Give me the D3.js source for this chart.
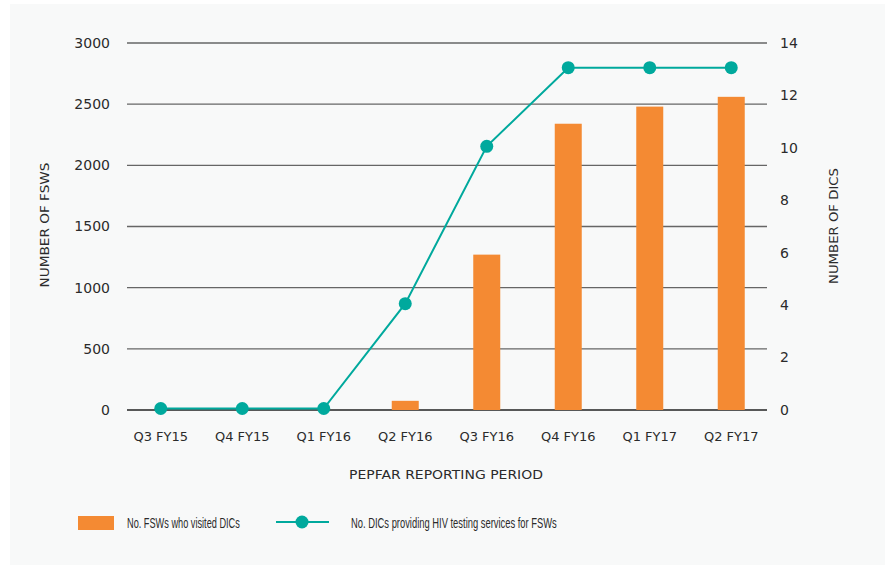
<!DOCTYPE html>
<html>
<head>
<meta charset="utf-8">
<script src="https://cdn.jsdelivr.net/npm/d3@7"></script>
<style>
  body { margin: 0; background: #ffffff; }
  text { font-family: "DejaVu Sans", sans-serif; fill: #2b2b2b; }
</style>
</head>
<body>
<div id="chart-area"></div>
<script>
// data
var periods = ["Q3 FY15", "Q4 FY15", "Q1 FY16", "Q2 FY16", "Q3 FY16", "Q4 FY16", "Q1 FY17", "Q2 FY17"];
var fswVisits = [0, 0, 0, 75, 1270, 2340, 2480, 2560];
var dicCount = [0, 0, 0, 4, 10, 13, 13, 13];
var leftTicks = [0, 500, 1000, 1500, 2000, 2500, 3000];
var rightTicks = [0, 2, 4, 6, 8, 10, 12, 14];

var W = 890, H = 565;
var svg = d3.select("#chart-area")
    .append("svg")
    .attr("width", W)
    .attr("height", H);

// panel
svg.append("rect")
    .attr("x", 10).attr("y", 4)
    .attr("width", 875).attr("height", 561)
    .attr("fill", "#f8f9f9");

var x = d3.scaleBand()
    .domain(periods)
    .range([120, 772])
    .paddingInner(0)
    .paddingOuter(0);

var yL = d3.scaleLinear().domain([0, 3000]).range([410, 43]);
var yR = d3.scaleLinear().domain([0, 14]).range([410, 43]);

// gridlines
svg.append("g")
    .selectAll("line")
    .data(leftTicks)
    .enter()
    .append("line")
    .attr("x1", 127)
    .attr("x2", 767)
    .attr("y1", d => yL(d))
    .attr("y2", d => yL(d))
    .attr("stroke", d => d === 0 ? "#222" : "#666")
    .attr("stroke-width", 1.3);

// left axis labels
svg.append("g")
    .selectAll("text")
    .data(leftTicks)
    .enter()
    .append("text")
    .attr("x", 110)
    .attr("y", d => yL(d))
    .attr("dy", "0.35em")
    .attr("text-anchor", "end")
    .style("font-size", "14px")
    .text(d => d);

// right axis labels
svg.append("g")
    .selectAll("text")
    .data(rightTicks)
    .enter()
    .append("text")
    .attr("x", 780)
    .attr("y", d => yR(d))
    .attr("dy", "0.35em")
    .style("font-size", "14px")
    .text(d => d);

// bars
var barW = 27;
svg.append("g")
    .selectAll("rect")
    .data(periods)
    .enter()
    .append("rect")
    .attr("x", (d) => x(d) + x.bandwidth() / 2 - barW / 2)
    .attr("y", (d, i) => yL(fswVisits[i]))
    .attr("width", barW)
    .attr("height", (d, i) => yL(0) - yL(fswVisits[i]))
    .attr("fill", "#f48a33");

// line
var line = d3.line()
    .x((d, i) => x(periods[i]) + x.bandwidth() / 2)
    .y(d => yR(d) - 1.5);

svg.append("path")
    .datum(dicCount)
    .attr("d", line)
    .attr("fill", "none")
    .attr("stroke", "#00a99d")
    .attr("stroke-width", 2);

svg.append("g")
    .selectAll("circle")
    .data(dicCount)
    .enter()
    .append("circle")
    .attr("cx", (d, i) => x(periods[i]) + x.bandwidth() / 2)
    .attr("cy", d => yR(d) - 1.5)
    .attr("r", 6.5)
    .attr("fill", "#00a99d");

// x tick labels
svg.append("g")
    .selectAll("text")
    .data(periods)
    .enter()
    .append("text")
    .attr("x", d => x(d) + x.bandwidth() / 2)
    .attr("y", 441)
    .attr("text-anchor", "middle")
    .style("font-size", "13px")
    .text(d => d);

// axis titles
svg.append("text")
    .attr("x", 446).attr("y", 479)
    .attr("text-anchor", "middle")
    .attr("textLength", 194)
    .attr("lengthAdjust", "spacingAndGlyphs")
    .style("font-size", "13px")
    .text("PEPFAR REPORTING PERIOD");

svg.append("text")
    .attr("transform", "translate(49,225) rotate(-90)")
    .attr("text-anchor", "middle")
    .attr("textLength", 125)
    .attr("lengthAdjust", "spacingAndGlyphs")
    .style("font-size", "13px")
    .text("NUMBER OF FSWS");

svg.append("text")
    .attr("transform", "translate(838,226) rotate(-90)")
    .attr("text-anchor", "middle")
    .attr("textLength", 116)
    .attr("lengthAdjust", "spacingAndGlyphs")
    .style("font-size", "13px")
    .text("NUMBER OF DICS");

// legend (condensed look: squeeze a normal font horizontally)
function legendText(label, lx, targetW) {
    var t = svg.append("text")
        .attr("x", 0).attr("y", 0)
        .style("font-family", "'Liberation Sans', Arial, sans-serif")
        .style("font-size", "14px")
        .text(label);
    var sx = targetW / t.node().getComputedTextLength();
    t.attr("transform", "translate(" + lx + ",528) scale(" + sx + ",1)");
}

svg.append("rect")
    .attr("x", 78).attr("y", 516)
    .attr("width", 36).attr("height", 14)
    .attr("fill", "#f48a33");
legendText("No. FSWs who visited DICs", 127, 113);

svg.append("line")
    .attr("x1", 276).attr("x2", 329)
    .attr("y1", 522).attr("y2", 522)
    .attr("stroke", "#00a99d")
    .attr("stroke-width", 2);
svg.append("circle")
    .attr("cx", 302).attr("cy", 522)
    .attr("r", 6.5)
    .attr("fill", "#00a99d");
legendText("No. DICs providing HIV testing services for FSWs", 351, 206);
</script>
</body>
</html>
